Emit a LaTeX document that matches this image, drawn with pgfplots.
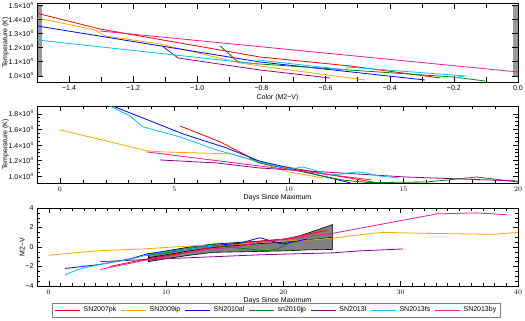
\documentclass[border=0pt]{standalone}
\usepackage{pgfplots}
\pgfplotsset{compat=1.18}
\usepackage{fontspec}
\setmainfont{Liberation Sans}
\definecolor{cRed}{RGB}{255,0,0}
\definecolor{cOrange}{RGB}{255,165,0}
\definecolor{cBlue}{RGB}{0,0,255}
\definecolor{cGreen}{RGB}{0,128,0}
\definecolor{cPurple}{RGB}{140,0,140}
\definecolor{cCyan}{RGB}{0,191,255}
\definecolor{cPink}{RGB}{255,20,147}
\newcommand{\tf}{\fontsize{7bp}{8bp}\selectfont}
\newcommand{\te}[1]{#1×10\textsuperscript{4}}
\pgfplotsset{
  every axis/.append style={
    scale only axis, width=481bp,
    font=\tf,
    axis line style={line width=0.5pt},
    tick style={black, line width=0.4pt},
    major tick length=5bp, minor tick length=3bp,
    tick label style={font=\tf},
    label style={font=\tf},
    scaled ticks=false,
    xlabel style={yshift=3bp},
  },
  every axis plot/.append style={line width=0.8pt},
}
\begin{document}
\begin{tikzpicture}
\path[use as bounding box] (0,0) rectangle (525bp,321bp);
% Panel 1
\begin{axis}[at={(37bp,239bp)}, anchor=south west, height=79bp,
  xmin=-1.5, xmax=0, ymin=9560, ymax=15160,
  major tick length=6bp, minor tick length=5bp,
  xtick={-1.4,-1.2,-1.0,-0.8,-0.6,-0.4,-0.2,0},
  xticklabels={−1.4,−1.2,−1.0,−0.8,−0.6,−0.4,−0.2,0.0},
  minor x tick num=1,
  minor x tick style={line width=0.4pt, black},
  ytick={10000,11000,12000,13000,14000,15000},
  yticklabels={\te{1.0},\te{1.1},\te{1.2},\te{1.3},\te{1.4},\te{1.5}},
  minor y tick num=19,
  minor y tick style={line width=0.25pt, black!40},
  xlabel={Color (M2−V)}, ylabel={Temperature (K)},
  ylabel style={at={(axis description cs:-0.0655,0.5)}, anchor=center, rotate=0},
]
\addplot[cRed] coordinates {(-1.5,14433)(-1.304,13319)(-0.805,11333)(-0.524,10695)(-0.243,9844)};
\addplot[cOrange] coordinates {(-1.5,14099)(-1.319,13248)(-1.288,12823)(-1.116,12255)(-0.867,10908)(-0.805,10695)(-0.477,9702)};
\addplot[cBlue] coordinates {(-1.5,13532)(-0.805,10979)(-0.290,9702)};
\addplot[cGreen] coordinates {(-0.929,12114)(-0.873,10979)(-0.805,10837)(-0.203,9915)(-0.103,9631)};
\addplot[cPurple] coordinates {(-1.110,12114)(-1.085,11688)(-1.060,11263)(-0.805,10411)(-0.586,9844)};
\addplot[cCyan] coordinates {(-1.5,12539)(-1.070,11475)(-0.811,10837)(-0.811,11121)(-0.533,10411)(-0.533,10624)(-0.165,9986)(-0.203,9844)};
\addplot[cPink] coordinates {(-1.304,13177)(0,10270)};
\end{axis}
% Panel 2
\begin{axis}[at={(37bp,138bp)}, anchor=south west, height=77bp,
  xmin=-1, xmax=20, ymin=9100, ymax=19000,
  xtick={0,5,10,15,20}, minor x tick num=4,
  ytick={10000,12000,14000,16000,18000},
  yticklabels={\te{1.0},\te{1.2},\te{1.4},\te{1.6},\te{1.8}},
  minor y tick num=3,
  xlabel={Days Since Maximum}, ylabel={Temperature (K)},
  ylabel style={at={(axis description cs:-0.0655,0.5)}, anchor=center, rotate=0},
]
\addplot[cRed] coordinates {(5.23,16450)(6.97,14425)(8.7,11800)(10,11100)(12,10064)(13.8,9150)};
\addplot[cOrange] coordinates {(0,15934)(3.83,13225)(4.5,13096)(7.5,12838)(10,10516)(11.5,9742)};
\addplot[cBlue] coordinates {(2.3,19000)(3.05,18127)(5.37,15418)(7.27,13612)(8.7,11935)(10,11032)(12.7,9100)};
\addplot[cGreen] coordinates {(8.28,12322)(8.7,11677)(12.33,9484)(13.5,9150)(16,9226)(18.2,9871)(20,9226)};
\addplot[cPurple] coordinates {(4.36,12064)(6.84,11677)(8.71,11032)(15.1,9871)(20,9355)};
\addplot[cCyan] coordinates {(2.18,19000)(3.05,17742)(3.62,16321)(5.23,15031)(6.84,13354)(8.71,11806)(10.1,10903)(10.59,11161)(11.11,10774)(11.63,10129)(12.33,10258)(12.94,10516)(13.38,10387)(13.94,10000)(14.81,9742)};
\addplot[cPink] coordinates {(3.79,13096)(8.71,11290)(13.6,9500)};
\end{axis}
% Panel 3
\begin{axis}[at={(37bp,35bp)}, anchor=south west, height=78bp,
  xmin=-1, xmax=40, ymin=-4, ymax=4,
  xtick={0,10,20,30,40}, minor x tick num=9,
  ytick={-4,-2,0,2,4}, yticklabels={−4,−2,0,2,4},
  minor y tick num=3,
  xlabel={Days Since Maximum}, ylabel={M2−V},
  ylabel style={at={(axis description cs:-0.031,0.5)}, anchor=center, rotate=0},
  legend columns=7,
  legend style={at={(0.497,-0.218)}, anchor=north, draw=gray, line width=0.5pt,
    font=\tf, inner sep=2.5bp, nodes={inner sep=1bp},
    /tikz/every odd column/.append style={column sep=2bp},
    /tikz/every even column/.append style={column sep=3.5bp}},
  legend image code/.code={\draw[#1, line width=0.8pt] (0bp,0bp) -- (25bp,0bp);},
]
\addplot[fill=gray, draw=black, line width=0.6pt, forget plot] coordinates {(8.5,-0.7)(10,-0.4)(12,0.0)(14,0.3)(16,0.45)(18,0.6)(20,0.8)(20.8,0.9)(24.2,2.3)(24.2,-0.25)(22,-0.3)(20,-0.4)(18,-0.45)(16,-0.5)(14,-0.55)(12,-0.85)(10,-1.2)(8.5,-1.5)} -- cycle;
\addplot[black, line width=0.6pt, forget plot] coordinates {(8.5,-1.1)(10,-0.8)(12,-0.4)(14,-0.05)(16,0.15)(18,0.35)(20,0.5)(22,0.7)(24.2,1.0)};
\addplot[cRed] coordinates {(5.2,-2.0)(8,-1.3)(10,-0.9)(12,-0.5)(14,0.0)(16,0.3)(18,0.6)(20,0.8)(22,1.3)(23.7,1.7)};
\addlegendentry{SN2007pk}
\addplot[cOrange] coordinates {(0,-0.85)(4,-0.4)(8,-0.2)(10,-0.05)(12,0.1)(14,0.2)(16,0.3)(18,0.45)(20,0.6)(22.2,0.7)(24.2,0.9)(26.8,1.3)(28.5,1.5)(32.2,1.4)(37.9,1.3)(40,1.5)};
\addlegendentry{SN2009ip}
\addplot[cBlue] coordinates {(1.4,-2.2)(4.3,-1.8)(7,-1.2)(8.4,-0.7)(10.6,-0.4)(14,0.1)(14.6,0.2)(16.3,0.4)(18,0.95)(19.9,0.3)(22,0.8)};
\addlegendentry{SN2010al}
\addplot[cGreen] coordinates {(8.3,-0.85)(10,-0.6)(12,-0.2)(14,0.3)(15.2,0.0)(17,-0.2)(18.6,-0.4)(19.5,-0.2)(20.5,0.4)};
\addlegendentry{sn2010jp}
\addplot[cPurple] coordinates {(4.4,-1.5)(10,-1.2)(18,-0.8)(24.2,-0.6)(26.5,-0.4)(30.2,-0.2)};
\addlegendentry{SN2013l}
\addplot[cCyan] coordinates {(1.4,-2.85)(2.5,-2.3)(4.3,-1.8)(7,-1.25)(8.4,-0.8)(10,-0.5)(12,-0.2)(14,0.1)(14.8,0.15)};
\addlegendentry{SN2013fs}
\addplot[cPink] coordinates {(4.4,-2.3)(6,-1.9)(8,-1.4)(10,-1.0)(12,-0.5)(14,-0.2)(16,0.0)(18,0.5)(24.2,1.4)(28.2,2.3)(33.1,3.4)(36.5,3.5)(39.1,3.3)};
\addlegendentry{SN2013by}
\end{axis}
\end{tikzpicture}
\end{document}
